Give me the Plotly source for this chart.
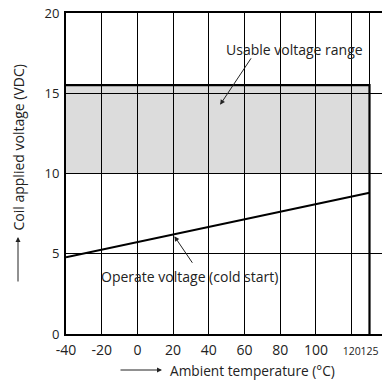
import numpy as np
import plotly.graph_objects as go

# ---- data ----
tick_temps = [-40, -20, 0, 20, 40, 60, 80, 100, 120, 125]   # tick labels (°C)
tick_pos = [-40, -20, 0, 20, 40, 60, 80, 100, 120, 130]      # axis positions (schematic axis)
y_ticks = [0, 5, 10, 15, 20]

operate_temp = [-40, 125]
operate_volt = [4.78, 8.8]

usable_temp = [-40, 125]
usable_low = 10
usable_high = 15.5


def tpos(t):
    return np.interp(t, tick_temps, tick_pos)


FONT = "Open Sans"
fig = go.Figure()

ux = tpos(usable_temp)
# outline of usable range (top + right side down to 0)
fig.add_trace(go.Scatter(
    x=[ux[0], ux[1], ux[1]], y=[usable_high, usable_high, 0],
    mode="lines", line=dict(color="black", width=2.2), hoverinfo="skip", showlegend=False))

fig.add_trace(go.Scatter(
    x=tpos(operate_temp), y=operate_volt, mode="lines",
    line=dict(color="black", width=2.2), showlegend=False))

fig.add_shape(type="rect", xref="x", yref="y", x0=ux[0], x1=ux[1],
              y0=usable_low, y1=usable_high, fillcolor="#dcdcdc",
              line=dict(width=0), layer="below")

ticktext = []
for t in tick_temps:
    if t >= 120:
        ticktext.append(f"<span style='font-size:10.5px'>{t}</span>")
    else:
        ticktext.append(str(t))

fig.update_xaxes(range=[-40, 137], tickvals=tick_pos, ticktext=ticktext, tickangle=0,
                 showgrid=True, gridcolor="black", gridwidth=1,
                 showline=True, linecolor="black", linewidth=2, mirror=True,
                 ticks="", zeroline=False, ticklabeloverflow="allow",
                 ticklabelstandoff=2,
                 tickfont=dict(family=FONT, size=14, color="#222"))
fig.update_yaxes(range=[0, 20], tickvals=y_ticks,
                 showgrid=True, gridcolor="black", gridwidth=1,
                 showline=True, linecolor="black", linewidth=2, mirror=False,
                 ticks="", zeroline=False, ticklabelstandoff=2,
                 tickfont=dict(family=FONT, size=13, color="#222"))

ann_font = dict(family=FONT, size=14, color="#222")
# Usable voltage range label + arrow
fig.add_annotation(x=88, y=17.73, xref="x", yref="y", text="Usable voltage range",
                   showarrow=False, font=ann_font, xanchor="center", yanchor="middle")
fig.add_annotation(x=46.3, y=14.28, xref="x", yref="y", text="", showarrow=True,
                   ax=32, ay=-48, axref="pixel", ayref="pixel",
                   arrowhead=2, arrowsize=1, arrowwidth=1, arrowcolor="#222")
# Operate voltage label + arrow
fig.add_annotation(x=29.1, y=3.58, xref="x", yref="y", text="Operate voltage (cold start)",
                   showarrow=False, font=ann_font, xanchor="center", yanchor="middle")
fig.add_annotation(x=20.7, y=6.09, xref="x", yref="y", text="", showarrow=True,
                   ax=19, ay=28, axref="pixel", ayref="pixel",
                   arrowhead=2, arrowsize=1, arrowwidth=1, arrowcolor="#222")

# Axis titles with leading arrows
fig.add_annotation(x=(252.5 - 66) / 316, y=(334 - 370) / 321, xref="paper", yref="paper",
                   text="Ambient temperature (°C)", showarrow=False,
                   font=dict(family=FONT, size=13.7, color="#222"),
                   xanchor="center", yanchor="middle")
fig.add_annotation(x=(162 - 66) / 316, y=(334 - 370) / 321, xref="paper", yref="paper",
                   text="", showarrow=True, ax=-43, ay=0,
                   arrowhead=2, arrowsize=1, arrowwidth=1, arrowcolor="#222")
fig.add_annotation(x=(18 - 66) / 316, y=(334 - 147.5) / 321, xref="paper", yref="paper",
                   text="Coil applied voltage (VDC)", textangle=-90, showarrow=False,
                   font=dict(family=FONT, size=14, color="#222"),
                   xanchor="center", yanchor="middle")
fig.add_annotation(x=(18 - 66) / 316, y=(334 - 237) / 321, xref="paper", yref="paper",
                   text="", showarrow=True, ax=0, ay=46,
                   arrowhead=2, arrowsize=1, arrowwidth=1, arrowcolor="#222")

fig.update_layout(width=382, height=380, margin=dict(l=66, r=0, t=13, b=46),
                  plot_bgcolor="white", paper_bgcolor="white", showlegend=False,
                  font=dict(family=FONT, color="#222"))

fig.write_html("out.html")
